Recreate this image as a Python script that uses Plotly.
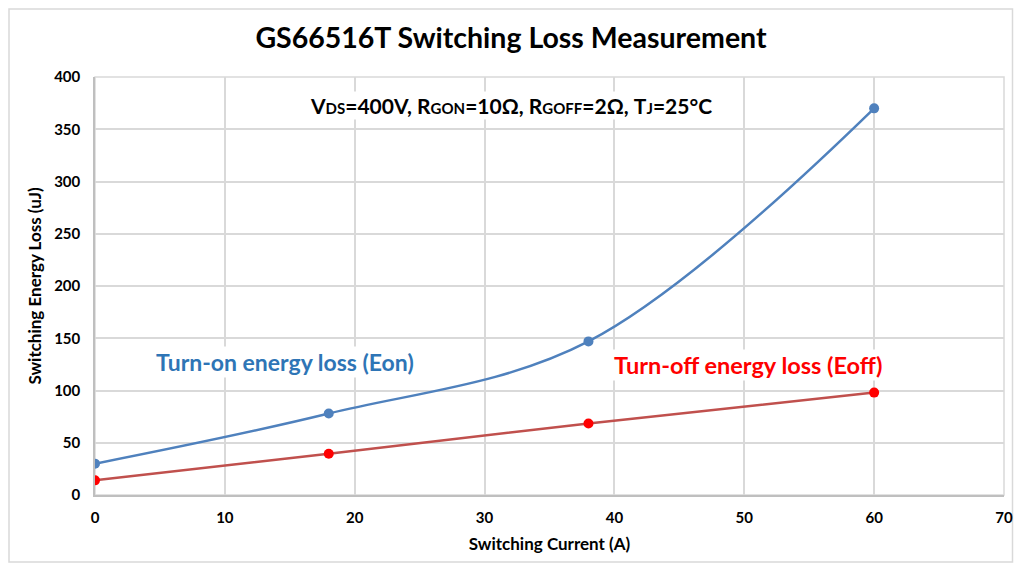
import plotly.graph_objects as go

current = [0, 18, 38, 60]
eon = [30, 78, 147, 370]
eoff = [14, 39.5, 68.5, 98]
x_ticks = [0, 10, 20, 30, 40, 50, 60, 70]
y_ticks = [0, 50, 100, 150, 200, 250, 300, 350, 400]

FONT = "Lato, 'Open Sans', sans-serif"

# page body has an 8px margin, so the figure is sized/offset to compensate
W, H = 1006, 555
L, R, T, B = 87, 10, 69, 68
PW, PH = W - L - R, H - T - B

fig = go.Figure()
fig.add_trace(go.Scatter(
    x=current, y=eon, mode="lines+markers", name="Eon",
    line=dict(color="#4F81BD", width=2.5, shape="spline", smoothing=1.0),
    marker=dict(color="#4F81BD", size=10),
))
fig.add_trace(go.Scatter(
    x=current, y=eoff, mode="lines+markers", name="Eoff",
    line=dict(color="#C0504D", width=2.5, shape="spline", smoothing=1.0),
    marker=dict(color="#FF0000", size=10),
))

sm = "<span style='font-size:15px'>%s</span>"
cond = ("V" + sm % "DS" + "=400V, R" + sm % "GON" + "=10Ω, R" + sm % "GOFF"
        + "=2Ω, T" + sm % "J" + "=25°C")

fig.add_annotation(x=32, y=373, text="<b>" + cond + "</b>", showarrow=False,
                   font=dict(family=FONT, size=21, color="#000000"),
                   bgcolor="white")
fig.add_annotation(x=14.6, y=127, text="<b>Turn-on energy loss (Eon)</b>", showarrow=False,
                   font=dict(family=FONT, size=23, color="#2E75B6"), bgcolor="white")
fig.add_annotation(x=50.3, y=124, text="<b>Turn-off energy loss (Eoff)</b>", showarrow=False,
                   font=dict(family=FONT, size=23.5, color="#FF0000"), bgcolor="white")

# outer light border of the chart (in page px -> paper coords)
def px_x(p):
    return (p - 8 - L) / PW

def px_y(p):
    return 1 - (p - 8 - T) / PH

fig.add_shape(type="rect", xref="paper", yref="paper",
              x0=px_x(9), x1=px_x(1012.5),
              y0=px_y(562), y1=px_y(9),
              line=dict(color="#D9D9D9", width=1.5), layer="below")

fig.update_layout(
    width=W, height=H,
    margin=dict(l=L, r=R, t=T, b=B, autoexpand=False),
    paper_bgcolor="white", plot_bgcolor="white",
    showlegend=False,
    title=dict(text="<b>GS66516T Switching Loss Measurement</b>",
               x=0.5, xanchor="center", y=1 - 30 / H, yanchor="middle",
               font=dict(family=FONT, size=28.5, color="#000000")),
    font=dict(family=FONT, color="#000000"),
)
fig.update_xaxes(
    range=[0, 70], tickvals=x_ticks, ticktext=["<b>%d</b>" % v for v in x_ticks],
    showgrid=True, gridcolor="#D9D9D9", gridwidth=1.5,
    showline=True, linecolor="#BFBFBF", linewidth=1.5, zeroline=False,
    tickfont=dict(family=FONT, size=15, color="#000000"), ticks="",
    ticklabelstandoff=8, automargin=False,
    title=dict(text="<b>Switching Current (A)</b>", font=dict(family=FONT, size=17), standoff=13),
)
fig.update_yaxes(
    range=[0, 400], tickvals=y_ticks, ticktext=["<b>%d</b>" % v for v in y_ticks],
    showgrid=True, gridcolor="#D9D9D9", gridwidth=1.5,
    showline=True, linecolor="#BFBFBF", linewidth=1.5, zeroline=False,
    tickfont=dict(family=FONT, size=15, color="#000000"), ticks="",
    ticklabelstandoff=10, automargin=False,
    title=dict(text="<b>Switching Energy Loss (uJ)</b>", font=dict(family=FONT, size=17), standoff=8),
)
# right/top border of plot area
fig.add_shape(type="rect", xref="paper", yref="paper", x0=0, x1=1, y0=0, y1=1,
              line=dict(color="#D9D9D9", width=1.5), layer="below")

fig.write_html("out.html")
